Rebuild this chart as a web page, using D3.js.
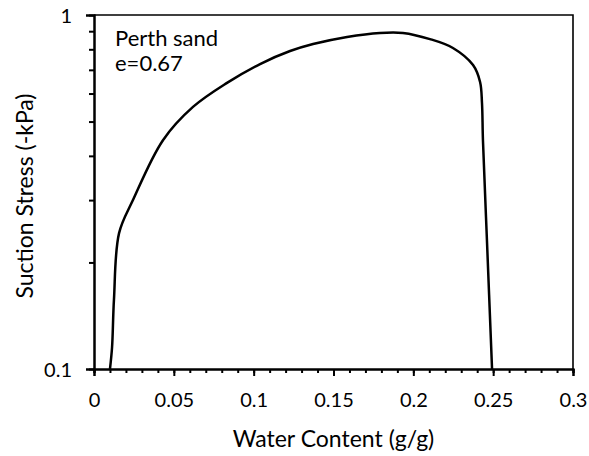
<!DOCTYPE html>
<html>
<head>
<meta charset="utf-8">
<script src="https://cdn.jsdelivr.net/npm/d3@7"></script>
<style>
  html, body { margin: 0; padding: 0; background: #fff; }
  svg { display: block; }
  text { font-family: Lato, "Open Sans", sans-serif; fill: #000; }
</style>
</head>
<body>
<svg id="chart" width="589" height="456"></svg>
<script>
// Suction stress characteristic curve, Perth sand (e = 0.67)
const waterContent = [0.0100, 0.0113, 0.0125, 0.0157, 0.0244, 0.0432, 0.0620, 0.0833,
                      0.1040, 0.1228, 0.1372, 0.1585, 0.1791, 0.1935, 0.2104, 0.2248, 0.2374, 0.2418,
                      0.2430, 0.2436, 0.2461, 0.2493];
const suctionStress = [0.100, 0.115, 0.157, 0.242, 0.300, 0.443, 0.550, 0.643,
                       0.727, 0.791, 0.828, 0.867, 0.890, 0.890, 0.855, 0.807, 0.722, 0.647,
                       0.564, 0.443, 0.231, 0.100];
const xTicks = [0, 0.05, 0.1, 0.15, 0.2, 0.25, 0.3];
const xTickLabels = ["0", "0.05", "0.1", "0.15", "0.2", "0.25", "0.3"];
const xMinorTicks = d3.range(0, 31).map(i => i / 100);
const yTicks = [0.1, 1];
const yTickLabels = ["0.1", "1"];
const yMinorTicks = [0.2, 0.3, 0.4, 0.5, 0.6, 0.7, 0.8, 0.9];
const annotation = ["Perth sand", "e=0.67"];
const xTitle = "Water Content (g/g)";
const yTitle = "Suction Stress (-kPa)";

const svg = d3.select("#chart");
const plot = { left: 94, right: 573, top: 15, bottom: 369 };
const tickFont = 20, noteFont = 22, titleFont = 23;

const x = d3.scaleLinear().domain([0, 0.3]).range([plot.left, plot.right]);
const y = d3.scaleLog().domain([0.1, 1]).range([plot.bottom, plot.top]);

// plot frame (top and right edges)
svg.append("path")
  .attr("d", `M${plot.left},${plot.top}H${plot.right}V${plot.bottom}`)
  .attr("fill", "none").attr("stroke", "#000").attr("stroke-width", 1.6);

// x axis: minor ticks every 0.01, major every 0.05
const gxm = svg.append("g").attr("transform", `translate(0,${plot.bottom})`)
  .call(d3.axisBottom(x).tickValues(xMinorTicks).tickSize(4).tickFormat(""));
const gx = svg.append("g").attr("transform", `translate(0,${plot.bottom})`)
  .call(d3.axisBottom(x).tickValues(xTicks).tickSize(7).tickFormat((d, i) => xTickLabels[i]));
gx.selectAll(".tick text").attr("y", 38).attr("dy", null);

// y axis (log): minor ticks at 0.2..0.9
const gym = svg.append("g").attr("transform", `translate(${plot.left},0)`)
  .call(d3.axisLeft(y).tickValues(yMinorTicks).tickSize(5).tickFormat(""));
const gy = svg.append("g").attr("transform", `translate(${plot.left},0)`)
  .call(d3.axisLeft(y).tickValues(yTicks).tickSize(8).tickFormat((d, i) => yTickLabels[i]));
gy.selectAll(".tick text").attr("x", -22).attr("dy", "0.36em");

[gx, gxm, gy, gym].forEach(g => {
  g.select(".domain").attr("stroke", "#000").attr("stroke-width", 2);
  g.selectAll(".tick line").attr("stroke", "#000").attr("stroke-width", 2);
  g.selectAll(".tick text").attr("font-size", tickFont)
    .attr("font-family", "Lato, 'Open Sans', sans-serif").attr("fill", "#000");
});

// curve
const line = d3.line()
  .x((d, i) => x(waterContent[i]))
  .y((d, i) => y(suctionStress[i]))
  .curve(d3.curveCatmullRom.alpha(0.5));
svg.append("path")
  .datum(waterContent)
  .attr("d", line)
  .attr("fill", "none")
  .attr("stroke", "#000")
  .attr("stroke-width", 2.5)
  .attr("stroke-linejoin", "round");

// annotation
svg.selectAll("text.note").data(annotation).join("text")
  .attr("class", "note")
  .attr("x", 115)
  .attr("y", (d, i) => 46 + i * 25)
  .attr("font-size", noteFont)
  .text(d => d);

// axis titles
svg.append("text")
  .attr("x", (plot.left + plot.right) / 2).attr("y", 447)
  .attr("text-anchor", "middle").attr("font-size", titleFont)
  .text(xTitle);
svg.append("text")
  .attr("transform", `translate(33,${(plot.top + plot.bottom) / 2 + 4}) rotate(-90)`)
  .attr("text-anchor", "middle").attr("font-size", titleFont)
  .text(yTitle);
</script>
</body>
</html>
